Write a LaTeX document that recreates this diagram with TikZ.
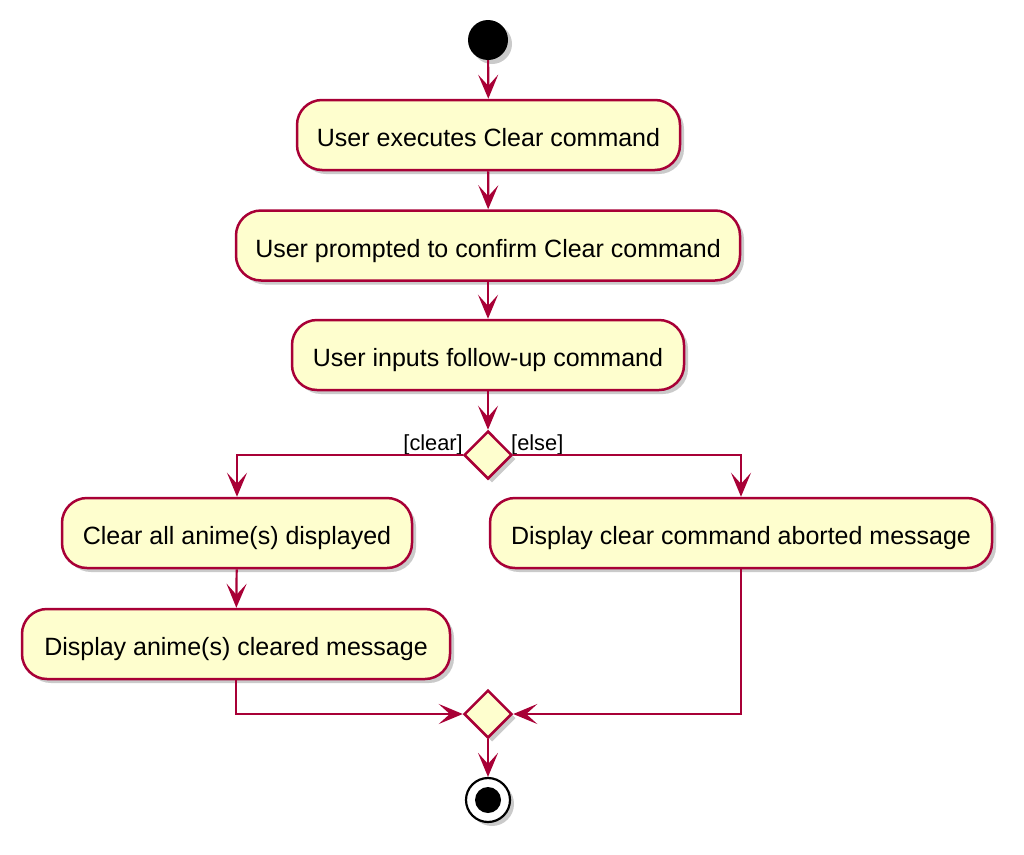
\documentclass[tikz,border=0pt]{standalone}
\usepackage{fontspec}
\setmainfont{Liberation Sans}
\usetikzlibrary{arrows.meta,shapes.geometric,shadows}
\definecolor{pborder}{HTML}{A80036}
\definecolor{pfill}{HTML}{FEFECE}
\tikzset{
  shad/.style={drop shadow={shadow xshift=4pt,shadow yshift=-4pt,opacity=0.35,fill=black!60}},
  act/.style={draw=pborder,fill=pfill,line width=2.5pt,rounded corners=25pt,minimum height=70pt,inner sep=0pt,text height=23pt,text depth=0pt,font=\fontsize{25}{28}\selectfont,shad},
  dec/.style={draw=pborder,fill=pfill,line width=2.5pt,diamond,minimum width=48pt,minimum height=48pt,inner sep=0pt,shad},
  flow/.style={draw=pborder,line width=2.2pt,-{Stealth[length=24pt,width=20pt,inset=11pt]}},
  guard/.style={font=\fontsize{21.8}{24}\selectfont,inner sep=0pt}
}
\begin{document}
\begin{tikzpicture}[x=1pt,y=-1pt]
\useasboundingbox (0,0) rectangle (1024,854);
\node[circle,fill=black,minimum size=40pt,inner sep=0pt,shad] (start) at (488,40) {};
\node[act,minimum width=383pt] (a1) at (488.5,135) {User executes Clear command};
\node[act,minimum width=504pt] (a2) at (488,245.5) {User prompted to confirm Clear command};
\node[act,minimum width=392pt] (a3) at (488,355) {User inputs follow-up command};
\node[dec] (d1) at (488,455) {};
\node[guard,anchor=base east] (gc) at (463,450) {[clear]};
\node[guard,anchor=base west] (ge) at (511,450) {[else]};
\node[act,minimum width=350pt] (a4) at (237,533) {Clear all anime(s) displayed};
\node[act,minimum width=428pt] (a5) at (236,644) {Display anime(s) cleared message};
\node[act,minimum width=502pt] (a6) at (741,533) {Display clear command aborted message};
\node[dec] (d2) at (488,714) {};
\node[circle,draw=black,line width=2.2pt,fill=white,minimum size=44pt,inner sep=0pt,shad] (stop) at (488,800) {};
\node[circle,fill=black,minimum size=26pt,inner sep=0pt] (stopin) at (stop.center) {};
\draw[flow] (start) -- (a1);
\draw[flow] (a1) -- (a2);
\draw[flow] (a2) -- (a3);
\draw[flow] (a3) -- (d1);
\draw[flow] (d1.west) -| (a4.north);
\draw[flow] (d1.east) -| (a6.north);
\draw[flow] (a4) -- (a5);
\draw[flow] (a5.south) |- (d2.west);
\draw[flow] (a6.south) |- (d2.east);
\draw[flow] (d2) -- (stop);
\end{tikzpicture}
\end{document}
